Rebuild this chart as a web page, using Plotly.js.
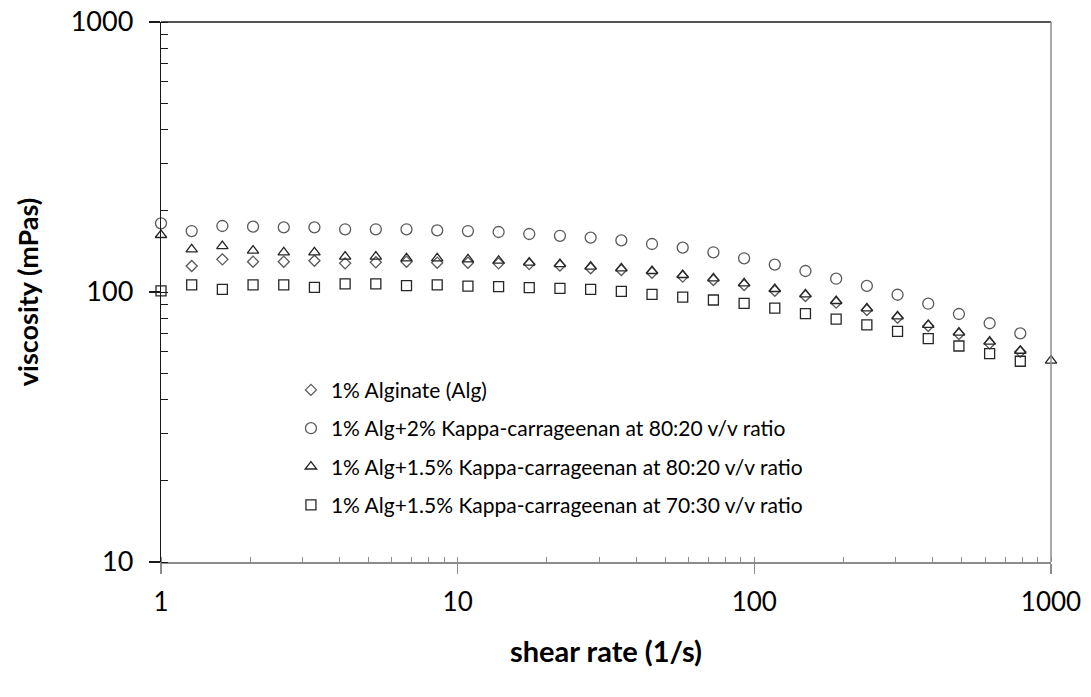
<!DOCTYPE html>
<html>
<head>
<meta charset="utf-8">
<script src="https://cdn.plot.ly/plotly-3.0.1.min.js"></script>
<style>html,body{margin:0;padding:0;background:#fff;}#chart{width:1091px;height:697px;}</style>
</head>
<body>
<div id="chart"></div>
<script>
// Shear rate (1/s)
const shearRate = [1, 1.269, 1.610, 2.043, 2.593, 3.290, 4.175, 5.298, 6.723, 8.532,
  10.83, 13.74, 17.43, 22.12, 28.07, 35.62, 45.20, 57.36, 72.79, 92.37,
  117.2, 148.7, 188.7, 239.5, 303.9, 385.7, 489.4, 621.0, 788.0, 1000];

// Viscosity (mPas)
const alginate = [null, 124.8, 132.1, 129.5, 129.5, 130.6, 127.7, 128.8, 129.5, 128.4,
  128.4, 127.7, 126.9, 125.4, 122.4, 120.6, 117.9, 114.0, 110.8, 106.2,
  101.1, 96.7, 91.3, 85.8, 80.3, 74.8, 69.9, 64.5, 60.1, null];
const alg2kc8020 = [179.6, 168.2, 175.6, 174.6, 173.6, 173.6, 170.7, 170.7, 170.7, 169.2,
  168.2, 166.8, 164.0, 161.5, 159.0, 155.4, 150.6, 146.0, 140.3, 133.3,
  126.3, 119.6, 112.0, 105.3, 97.7, 90.5, 82.9, 76.6, 70.3, null];
const alg15kc8020 = [162.6, 143.9, 148.0, 142.3, 140.3, 140.3, 135.2, 135.2, 133.3, 133.3,
  132.1, 130.6, 128.4, 126.8, 124.1, 122.4, 119.6, 115.6, 112.4, 107.7,
  102.6, 98.0, 92.6, 87.0, 81.3, 75.5, 70.7, 65.5, 60.6, 55.7];
const alg15kc7030 = [101.0, 106.2, 102.3, 106.2, 106.2, 104.1, 107.1, 107.1, 105.6, 106.2,
  105.2, 104.7, 103.8, 103.2, 102.3, 100.6, 98.0, 95.8, 93.4, 90.8,
  87.2, 83.2, 79.4, 75.5, 71.5, 67.2, 63.1, 59.1, 55.4, null];

const seriesNames = [
  "1% Alginate (Alg)",
  "1% Alg+2% Kappa-carrageenan at 80:20 v/v ratio",
  "1% Alg+1.5% Kappa-carrageenan at 80:20 v/v ratio",
  "1% Alg+1.5% Kappa-carrageenan at 70:30 v/v ratio"
];

const FONT = "Lato, 'Open Sans', sans-serif";

function tr(y, name, symbol, size, color, grp) {
  return {
    x: shearRate, y: y, name: name, type: 'scatter', mode: 'markers',
    cliponaxis: false, legendgroup: grp,
    marker: {symbol: symbol, size: size, color: color, line: {color: color, width: 1.3}}
  };
}

const data = [
  tr(alginate, seriesNames[0], 'diamond-open', 8.5, '#5a5a5a', 'a'),
  tr(alg2kc8020, seriesNames[1], 'circle-open', 11, '#5a5a5a', 'b'),
  tr(alg15kc8020, seriesNames[2], 'triangle-up-open', 10, '#262626', 'c'),
  tr(alg15kc7030, seriesNames[3], 'square-open', 10, '#262626', 'd')
];

const layout = {
  width: 1091, height: 697,
  margin: {l: 161, r: 40, t: 22, b: 135},
  paper_bgcolor: '#fff', plot_bgcolor: '#fff',
  font: {family: FONT, color: '#000'},
  showlegend: true,
  legend: {
    x: 0.146, y: 0.356, xanchor: 'left', yanchor: 'top',
    bgcolor: 'rgba(0,0,0,0)', borderwidth: 0,
    font: {family: FONT, size: 21, color: '#000'},
    traceorder: 'grouped', tracegroupgap: 8, itemwidth: 30
  },
  xaxis: {
    type: 'log', range: [0, 3], tickmode: 'linear', tick0: 0, dtick: 1,
    exponentformat: 'none',
    showgrid: false, zeroline: false,
    showline: true, linecolor: '#8c8c8c', linewidth: 1.5,
    ticks: 'outside', ticklen: 10, tickwidth: 1.3, tickcolor: '#8c8c8c',
    ticklabelstandoff: 6,
    tickfont: {family: FONT, size: 26, color: '#000'},
    minor: {ticks: 'inside', ticklen: 5, tickwidth: 1, tickcolor: '#8c8c8c', dtick: 'D1', showgrid: false},
    title: {text: '<b>shear rate (1/s)</b>', font: {family: FONT, size: 29, color: '#000'}, standoff: 26}
  },
  yaxis: {
    type: 'log', range: [1, 3], tickmode: 'linear', tick0: 0, dtick: 1,
    exponentformat: 'none',
    showgrid: false, zeroline: false,
    showline: true, linecolor: '#1a1a1a', linewidth: 1.3,
    ticks: 'outside', ticklen: 11, tickwidth: 1.3, tickcolor: '#1a1a1a',
    ticklabelstandoff: 10,
    tickfont: {family: FONT, size: 27, color: '#000'},
    minor: {ticks: 'inside', ticklen: 7, tickwidth: 1, tickcolor: '#1a1a1a', dtick: 'D1', showgrid: false},
    title: {text: '<b>viscosity (mPas)</b>', font: {family: FONT, size: 27, color: '#000'}, standoff: 24}
  },
  shapes: [
    {type: 'line', xref: 'paper', yref: 'paper', x0: 0, x1: 1, y0: 1, y1: 1, line: {color: '#1a1a1a', width: 1.3}},
    {type: 'line', xref: 'paper', yref: 'paper', x0: 1, x1: 1, y0: 0, y1: 1, line: {color: '#8c8c8c', width: 1.5}}
  ]
};

Plotly.newPlot('chart', data, layout, {displayModeBar: false, staticPlot: true});
</script>
</body>
</html>
